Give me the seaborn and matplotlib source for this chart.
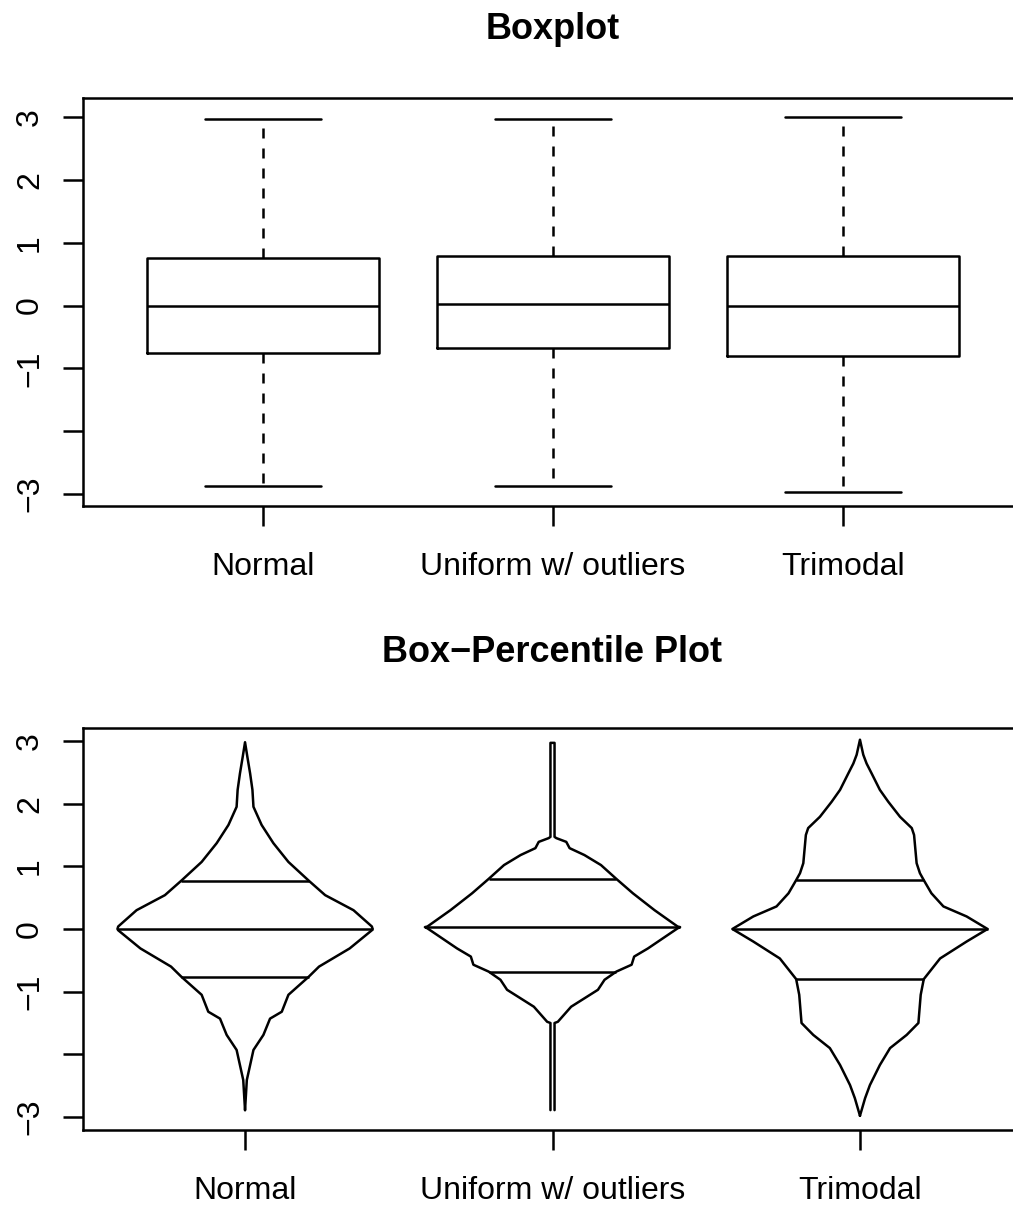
import numpy as np
import pandas as pd
import seaborn as sns
import matplotlib.pyplot as plt

groups = ["Normal", "Uniform w/ outliers", "Trimodal"]

# five number summaries: min, Q1, median, Q3, max
normal_box = [-2.87, -0.75, 0.0, 0.76, 2.97]
uniform_box = [-2.87, -0.68, 0.03, 0.79, 2.97]
trimodal_box = [-2.96, -0.81, 0.0, 0.78, 3.0]

# box-percentile outlines: percentile and the value at it
normal_pct = [0.0, 0.007, 0.033, 0.072, 0.098, 0.144, 0.17, 0.25, 0.29, 0.41, 0.497, 0.5,
              0.503, 0.575, 0.686, 0.75, 0.83, 0.889, 0.935, 0.967, 0.971, 0.98, 0.991, 1.0]
normal_val = [-2.89, -2.41, -1.93, -1.69, -1.43, -1.32, -1.05, -0.76, -0.60, -0.31, -0.02, 0.0,
              0.04, 0.30, 0.54, 0.77, 1.07, 1.37, 1.66, 1.95, 2.22, 2.48, 2.75, 2.98]

uniform_pct = [0.008, 0.008, 0.021, 0.073, 0.178, 0.204, 0.25, 0.31, 0.32, 0.374, 0.49, 0.5,
               0.51, 0.60, 0.685, 0.75, 0.81, 0.875, 0.933, 0.946, 0.985, 0.992, 0.992]
uniform_val = [-2.89, -1.50, -1.48, -1.24, -0.97, -0.81, -0.68, -0.57, -0.44, -0.31, 0.01, 0.03,
               0.04, 0.30, 0.57, 0.80, 1.02, 1.18, 1.29, 1.39, 1.45, 1.47, 2.97]

trimodal_pct = [0.0, 0.02, 0.039, 0.078, 0.118, 0.183, 0.229, 0.238, 0.25, 0.314, 0.418, 0.5,
                0.582, 0.673, 0.72, 0.75, 0.765, 0.778, 0.788, 0.797, 0.843, 0.889, 0.922,
                0.954, 0.974, 0.987, 1.0]
trimodal_val = [-2.98, -2.70, -2.49, -2.17, -1.90, -1.69, -1.50, -1.05, -0.80, -0.47, -0.20, 0.0,
                0.20, 0.36, 0.57, 0.78, 0.89, 1.05, 1.50, 1.61, 1.79, 2.03, 2.22,
                2.48, 2.64, 2.78, 3.02]

yticks = [-3, -2, -1, 0, 1, 2, 3]
ytick_labels = ["\u22123", "", "\u22121", "0", "1", "2", "3"]

LW = 1.8
sns.set_theme(style="ticks", rc={
    "axes.edgecolor": "black", "axes.linewidth": LW,
    "xtick.major.size": 14.4, "ytick.major.size": 14.4,
    "xtick.major.width": LW, "ytick.major.width": LW,
    "xtick.color": "black", "ytick.color": "black", "text.color": "black",
})
plt.rcParams["font.family"] = ["Liberation Sans", "DejaVu Sans"]

W, H = 1013, 1207
fig = plt.figure(figsize=(W / 100, H / 100), dpi=100)

def px_axes(left, top, right, bottom):
    return fig.add_axes([left / W, 1 - bottom / H, (right - left) / W, (bottom - top) / H])

def style_axes(ax):
    ax.set_yticks(yticks)
    ax.set_yticklabels(ytick_labels, rotation=90, va="center")
    ax.tick_params(axis="y", labelsize=23, pad=13)
    ax.tick_params(axis="x", labelsize=23, pad=19)
    ax.set_xlabel("")
    ax.set_ylabel("")
    for s in ax.spines.values():
        s.set_visible(True)

# ---- top: plain boxplot
box_df = pd.DataFrame({
    "group": np.repeat(groups, 5),
    "value": normal_box + uniform_box + trimodal_box,
})
ax1 = px_axes(83, 98, 1023, 506)
sns.boxplot(data=box_df, x="group", y="value", order=groups, ax=ax1,
            width=0.8, whis=(0, 100), fill=False, color="black", linecolor="black",
            linewidth=LW, whiskerprops={"linestyle": (0, (4, 4))})
ax1.set_xlim(-0.62, 2.62)
ax1.set_ylim(-3.19, 3.302)
style_axes(ax1)

# ---- bottom: box-percentile plot
ax2 = px_axes(83, 728, 1022, 1130)
w0 = 0.415
outlines = [(normal_pct, normal_val), (uniform_pct, uniform_val), (trimodal_pct, trimodal_val)]
for i, (pct, val) in enumerate(outlines):
    p = np.array(pct)
    hw = w0 * 2 * np.minimum(p, 1 - p)
    xs = np.concatenate([i - hw, (i + hw)[::-1]])
    ys = np.concatenate([val, val[::-1]])
    sns.lineplot(x=xs, y=ys, sort=False, estimator=None, color="black", linewidth=LW, ax=ax2)
    # quartile and median lines
    q1 = np.interp(0.25, p, val)
    med = np.interp(0.5, p, val)
    q3 = np.interp(0.75, p, val)
    ax2.hlines([q1, q3], i - w0 / 2, i + w0 / 2, color="black", linewidth=LW)
    ax2.hlines(med, i - w0, i + w0, color="black", linewidth=LW)

ax2.set_xticks([0, 1, 2])
ax2.set_xticklabels(groups)
ax2.set_xlim(-0.527, 2.527)
ax2.set_ylim(-3.207, 3.207)
style_axes(ax2)

fig.text(552.5 / W, 1 - 39 / H, "Boxplot", ha="center", va="baseline",
         fontsize=26, fontweight="bold")
fig.text(552.5 / W, 1 - 662.5 / H, "Box\u2212Percentile Plot", ha="center", va="baseline",
         fontsize=26, fontweight="bold")

fig.savefig("out.png", dpi=100)
